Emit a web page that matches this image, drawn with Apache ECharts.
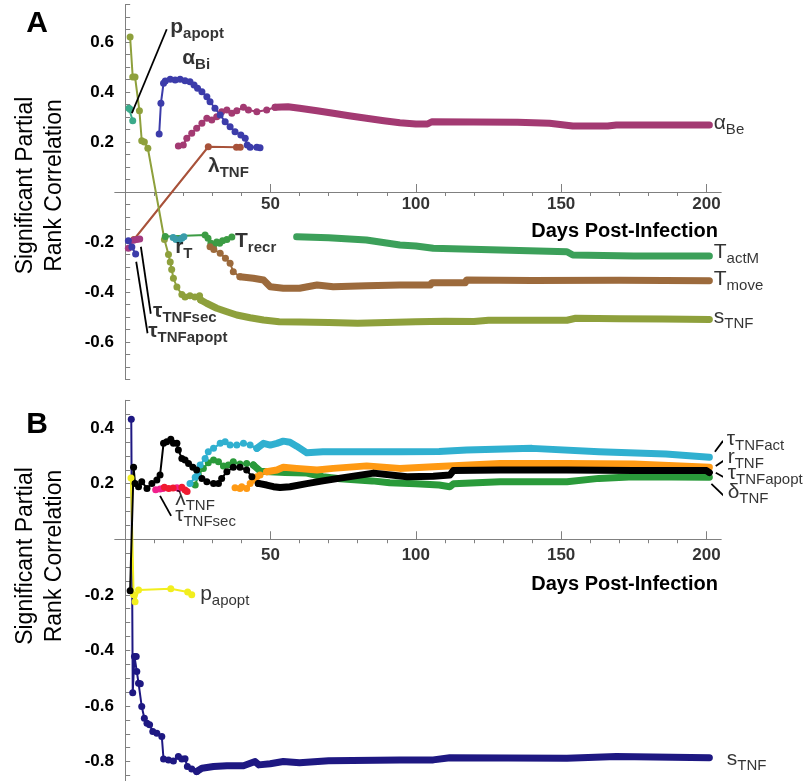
<!DOCTYPE html>
<html>
<head>
    <meta charset="UTF-8">
    <title>Partial rank correlation</title>
    <script src="https://cdn.jsdelivr.net/npm/echarts@6/dist/echarts.min.js"></script>
    <style>
        body { margin: 0; background: #fff; }
        #chart { width: 812px; height: 781px; }
    </style>
</head>
<body>
    <div id="chart"></div>
    <script>
        const FONT = '"Liberation Sans", Arial, sans-serif';

        // tick labels
        const xMajor = [50, 100, 150, 200];
        const xMinor = [10, 20, 30, 40, 60, 70, 80, 90, 110, 120, 130, 140, 160, 170, 180, 190];
        const yLabelsA = [-0.6, -0.4, -0.2, 0.2, 0.4, 0.6];
        const yLabelsB = [-0.8, -0.6, -0.4, -0.2, 0.2, 0.4];

        // ---- panel A: [day, correlation] ----
        const A_sTNF = [[1.7, 0.62], [2.6, 0.46], [3.4, 0.46], [4.9, 0.325], [5.7, 0.205], [6.6, 0.2], [7.8, 0.175],
            [13.5, -0.19], [14.9, -0.25], [15.5, -0.28], [16, -0.31], [16.6, -0.345], [17.8, -0.38], [19.5, -0.41],
            [20.6, -0.42], [22.3, -0.415], [24, -0.42], [25.6, -0.415], [26, -0.432]];
        const A_sTNF_tail = [[26, -0.432], [28, -0.445], [31.5, -0.465], [35, -0.479], [38.4, -0.492], [43, -0.503],
            [47.6, -0.512], [53, -0.519], [60, -0.52], [70, -0.522], [80, -0.525], [90, -0.522], [100, -0.519],
            [110, -0.517], [120, -0.518], [125, -0.513], [152, -0.513], [155, -0.505], [170, -0.507], [185, -0.508], [201, -0.51]];
        const A_alphaBi = [[11.7, 0.232], [12.3, 0.355], [13.2, 0.435], [13.8, 0.444], [15.5, 0.451], [17.2, 0.448],
            [18.9, 0.451], [20.6, 0.445], [22.3, 0.441], [23.7, 0.428], [24.9, 0.415], [26.4, 0.401], [28.1, 0.381],
            [29.2, 0.361], [30.9, 0.335], [32.7, 0.308], [34.4, 0.281], [36.1, 0.261], [37.8, 0.241], [39.8, 0.228],
            [41.3, 0.215], [42, 0.188], [43, 0.179], [45.3, 0.179], [46.4, 0.177]];
        const A_alphaBe = [[18.3, 0.184], [20, 0.188], [21.2, 0.215], [22.9, 0.235], [24.6, 0.255], [26.4, 0.275],
            [28.1, 0.295], [29.8, 0.288], [31.5, 0.301], [33.2, 0.321], [35, 0.328], [36.7, 0.315], [38.4, 0.325],
            [40.7, 0.339], [42.4, 0.328], [45.3, 0.321], [48.7, 0.328], [51.6, 0.339]];
        const A_alphaBe_tail = [[51.6, 0.339], [56, 0.341], [60, 0.335], [66, 0.325], [71.6, 0.315], [77, 0.305],
            [83, 0.295], [89, 0.285], [94.5, 0.277], [100, 0.272], [104, 0.272], [105.5, 0.281], [120, 0.28],
            [135, 0.279], [146, 0.275], [154, 0.264], [166, 0.264], [169, 0.268], [185, 0.268], [201, 0.268]];
        const A_lambdaTNF = [[3, -0.19], [28.6, 0.181], [38.3, 0.179], [39.6, 0.179]];
        const A_pApopt = [[1.3, 0.335], [1.8, 0.33], [2.6, 0.285]];
        const A_tauSec = [[1.1, -0.225], [2.9, -0.193], [4, -0.19], [5, -0.188]];
        const A_tauApopt = [[1.1, -0.195], [2.3, -0.22], [3.6, -0.248]];
        const A_rT = [[16.5, -0.182], [17.5, -0.19], [18.7, -0.192], [19.5, -0.185], [20.2, -0.179]];
        const A_Trecr = [[13.8, -0.178], [27.5, -0.172], [28.5, -0.185], [29.5, -0.205], [30.4, -0.215], [31.5, -0.2],
            [32.5, -0.205], [33.5, -0.195], [35, -0.19], [36.7, -0.18]];
        const A_Tmove = [[29.2, -0.219], [30.5, -0.23], [32.7, -0.245], [34.5, -0.265], [36.1, -0.285], [37.2, -0.319], [39.5, -0.339]];
        const A_Tmove_tail = [[39.5, -0.339], [44.1, -0.345], [47.6, -0.352], [49.9, -0.379], [54.4, -0.385], [60, -0.385],
            [66, -0.372], [71.6, -0.379], [83, -0.375], [94.5, -0.372], [105, -0.372], [105.5, -0.363], [117, -0.363],
            [117.5, -0.352], [140, -0.354], [170, -0.353], [201, -0.355]];
        const A_TactM_tail = [[59, -0.179], [70, -0.183], [83, -0.192], [94.5, -0.212], [100, -0.216], [106, -0.225],
            [129, -0.232], [152, -0.239], [154, -0.252], [175, -0.256], [201, -0.256]];

        // ---- panel B ----
        const B_sTNF = [[2.1, 0.432], [2.6, -0.552], [3.2, -0.422], [3.8, -0.422], [4, -0.476], [4.6, -0.518], [5.2, -0.52],
            [5.7, -0.602], [6.6, -0.644], [7.5, -0.662], [8.4, -0.668], [9.5, -0.692], [10.9, -0.698], [12.6, -0.71],
            [13.2, -0.791], [14.9, -0.794], [16.6, -0.798], [18.3, -0.782], [19.5, -0.791], [20.6, -0.79], [21.4, -0.818],
            [22.9, -0.827], [24.6, -0.836]];
        const B_sTNF_tail = [[24.6, -0.836], [26.4, -0.824], [30.4, -0.818], [35, -0.815], [40.7, -0.815], [44.7, -0.8],
            [46, -0.812], [49.9, -0.808], [54.4, -0.8], [60, -0.804], [70, -0.797], [94.5, -0.794], [106, -0.794],
            [111.7, -0.786], [152, -0.788], [169, -0.782], [201, -0.786]];
        const B_pApopt = [[2, 0.22], [2.9, -0.2], [3.4, -0.225], [4.6, -0.183], [15.7, -0.178], [21.5, -0.19], [22.9, -0.2]];
        const B_tauApopt = [[1.7, -0.185], [2.9, 0.259], [3.4, 0.201], [4.6, 0.189], [5.7, 0.207], [7.5, 0.183], [9.2, 0.201],
            [10.9, 0.213], [12, 0.231], [13.2, 0.345], [14.3, 0.351], [15.7, 0.36], [16.6, 0.345], [17.8, 0.345],
            [18.3, 0.321], [19.5, 0.291], [20.6, 0.285], [21.8, 0.273], [23.3, 0.259], [24.6, 0.249], [26.4, 0.219],
            [28.1, 0.207], [30.4, 0.201], [32.1, 0.201], [33.2, 0.219], [35, 0.243], [37.2, 0.259], [39.5, 0.259],
            [41.8, 0.249], [43.6, 0.225], [45.8, 0.201]];
        const B_tauApopt_tail = [[45.8, 0.201], [48.7, 0.195], [51, 0.189], [53.3, 0.186], [56.7, 0.189], [62.5, 0.2],
            [68, 0.21], [74, 0.22], [85.5, 0.238], [97, 0.225], [106, 0.227], [111.7, 0.231], [112.9, 0.247],
            [129, 0.249], [152, 0.249], [175, 0.247], [200, 0.247], [201, 0.24]];
        const B_tauAct = [[22.3, 0.201], [24.1, 0.223], [24.9, 0.231], [25.8, 0.267], [27.5, 0.291], [28.6, 0.315],
            [30.4, 0.327], [32.7, 0.345], [34.4, 0.351], [36.1, 0.339], [38.4, 0.339], [40.7, 0.345], [43, 0.339], [45.3, 0.327]];
        const B_tauAct_tail = [[45.3, 0.327], [47.6, 0.345], [49.9, 0.339], [52.2, 0.345], [54.4, 0.353], [56.7, 0.349],
            [59, 0.335], [62.5, 0.311], [68, 0.315], [94.5, 0.315], [108, 0.316], [117.5, 0.321], [140, 0.327],
            [163, 0.315], [186, 0.307], [201, 0.295]];
        const B_deltaTNF = [[24.1, 0.195], [25.2, 0.231], [26.9, 0.255], [28.6, 0.275], [30.4, 0.285], [32.1, 0.279],
            [33.8, 0.264], [35.5, 0.267], [37.2, 0.279], [39.5, 0.271], [41.8, 0.273], [44.1, 0.267]];
        const B_deltaTNF_tail = [[44.1, 0.267], [46.5, 0.245], [55, 0.24], [62.5, 0.238], [68, 0.225], [74, 0.218],
            [85, 0.21], [91, 0.203], [100, 0.2], [108, 0.195], [111.7, 0.189], [113, 0.2], [129, 0.207], [152, 0.207],
            [163, 0.219], [175, 0.225], [201, 0.223]];
        const B_rTNF = [[37.8, 0.185], [39.5, 0.183], [40.1, 0.189], [41.8, 0.183], [43, 0.201], [44.1, 0.213],
            [45.3, 0.225], [46.4, 0.231], [48.7, 0.243]];
        const B_rTNF_tail = [[48.7, 0.243], [52.2, 0.249], [54.4, 0.259], [59, 0.255], [66, 0.249], [71.6, 0.255],
            [83.1, 0.264], [94.5, 0.255], [106, 0.261], [129, 0.273], [152, 0.273], [175, 0.271], [201, 0.259]];
        const B_lambdaTNF = [[13.5, 0.187], [15, 0.183], [16.5, 0.184], [19.5, 0.187], [20.6, 0.177], [21.3, 0.172]];
        const B_tauSec = [[10.5, 0.178], [12, 0.181], [13, 0.183], [17.8, 0.185], [18.5, 0.183]];

        // curve labels: [main, subscript, day, value, bold]
        const labelsA = [
            ['p', 'apopt', 15.5, 0.66, true], ['α', 'Bi', 19.6, 0.536, true], ['λ', 'TNF', 28.5, 0.104, true],
            ['α', 'Be', 202.5, 0.276, false], ['r', 'T', 17.2, -0.22, true], ['T', 'recr', 37.8, -0.196, true],
            ['T', 'actM', 202.5, -0.24, false], ['T', 'move', 202.5, -0.348, false], ['s', 'TNF', 202.5, -0.5, false],
            ['τ', 'TNFsec', 9.6, -0.476, true], ['τ', 'TNFapopt', 7.9, -0.556, true]
        ];
        const labelsB = [
            ['τ', 'TNFact', 207, 0.361, false], ['r', 'TNF', 207.3, 0.296, false], ['τ', 'TNFapopt', 207.3, 0.239, false],
            ['δ', 'TNF', 207.3, 0.171, false], ['s', 'TNF', 207, -0.79, false], ['λ', 'TNF', 17.2, 0.145, false],
            ['τ', 'TNFsec', 17.2, 0.087, false], ['p', 'apopt', 25.8, -0.197, false]
        ];
        const leadersA = [[[2.3, 0.315], [14.3, 0.651]], [[5.4, -0.219], [8.8, -0.487]], [[3.8, -0.279], [7.7, -0.565]]];
        const leadersB = [[[202.9, 0.315], [205.7, 0.354]], [[203.2, 0.264], [206.3, 0.285]], [[203.2, 0.239], [206.3, 0.221]],
            [[201.7, 0.199], [206, 0.156]], [[12, 0.156], [15.8, 0.084]]];

        function ticks(lo, hi) {
            const out = [];
            for (let k = Math.round(lo * 20); k <= Math.round(hi * 20); k++) if (k !== 0) out.push(k / 20);
            return out;
        }

        const series = [];
        function dotted(g, color, data) {
            series.push({
                type: 'line', xAxisIndex: g * 2, yAxisIndex: g, data: data, symbol: 'circle', symbolSize: 7,
                showAllSymbol: true, itemStyle: { color: color }, lineStyle: { color: color, width: 2 }, z: 3
            });
        }
        function band(g, color, data) {
            series.push({
                type: 'line', xAxisIndex: g * 2, yAxisIndex: g, data: data, symbol: 'none',
                lineStyle: { color: color, width: 7, cap: 'round', join: 'round' }, z: 2
            });
        }

        // panel A
        dotted(0, '#a8523a', A_lambdaTNF);
        band(0, '#8ea03c', A_sTNF_tail);
        dotted(0, '#8ea03c', A_sTNF);
        band(0, '#a33a72', A_alphaBe_tail);
        dotted(0, '#a33a72', A_alphaBe);
        dotted(0, '#3c3caa', A_alphaBi);
        dotted(0, '#3aaa8a', A_pApopt);
        dotted(0, '#a33a80', A_tauSec);
        dotted(0, '#3c3caa', A_tauApopt);
        dotted(0, '#3c9c44', A_Trecr);
        dotted(0, '#3a9caa', A_rT);
        band(0, '#9c6a3c', A_Tmove_tail);
        dotted(0, '#9c6a3c', A_Tmove);
        band(0, '#3ca05a', A_TactM_tail);

        // panel B
        band(1, '#1e1882', B_sTNF_tail);
        dotted(1, '#1e1882', B_sTNF);
        dotted(1, '#f2ee1e', B_pApopt);
        band(1, '#2a9a3a', B_deltaTNF_tail);
        dotted(1, '#2a9a3a', B_deltaTNF);
        band(1, '#ff9a14', B_rTNF_tail);
        dotted(1, '#ff9a14', B_rTNF);
        band(1, '#30b0d0', B_tauAct_tail);
        dotted(1, '#30b0d0', B_tauAct);
        band(1, '#000000', B_tauApopt_tail);
        dotted(1, '#000000', B_tauApopt);
        dotted(1, '#f0208c', B_tauSec);
        dotted(1, '#f01a30', B_lambdaTNF);

        const rich = {
            m: { fontFamily: FONT, fontSize: 21, color: '#000' },
            s: { fontFamily: FONT, fontSize: 15, color: '#000', padding: [14, 0, 0, 0] },
            mb: { fontFamily: FONT, fontSize: 21, color: '#000', fontWeight: 'bold' },
            sb: { fontFamily: FONT, fontSize: 15, color: '#000', fontWeight: 'bold', padding: [14, 0, 0, 0] }
        };
        function labelSeries(g, list) {
            series.push({
                type: 'scatter', xAxisIndex: g * 2, yAxisIndex: g, symbolSize: 0, clip: false, silent: true, z: 5,
                data: list.map(l => ({
                    value: [l[2], l[3]],
                    label: {
                        show: true, position: 'right', distance: 0, rich: rich,
                        formatter: l[4] ? '{mb|' + l[0] + '}{sb|' + l[1] + '}' : '{m|' + l[0] + '}{s|' + l[1] + '}'
                    }
                }))
            });
        }
        function leaderSeries(g, list) {
            list.forEach(seg => series.push({
                type: 'line', xAxisIndex: g * 2, yAxisIndex: g, data: seg, symbol: 'none', clip: false, silent: true,
                lineStyle: { color: '#000', width: 1.8 }, z: 5
            }));
        }
        // day labels sit on the zero line of each panel
        function dayLabels(g, dist) {
            series.push({
                type: 'scatter', xAxisIndex: g * 2, yAxisIndex: g, symbolSize: 0, silent: true, z: 5,
                data: xMajor.map(v => [v, 0]),
                label: {
                    show: true, position: 'bottom', distance: dist, formatter: p => String(p.value[0]),
                    fontFamily: FONT, fontSize: 17, fontWeight: 'bold', color: '#000', lineHeight: 17
                }
            });
        }
        labelSeries(0, labelsA);
        labelSeries(1, labelsB);
        leaderSeries(0, leadersA);
        leaderSeries(1, leadersB);
        dayLabels(0, 4);
        dayLabels(1, 8);

        const axisGrey = { color: '#808080', width: 1 };
        function xAxes(g) {
            return [{
                gridIndex: g, type: 'value', min: -3.5, max: 205,
                axisLine: { onZero: true, onZeroAxisIndex: g, lineStyle: axisGrey },
                axisTick: { inside: true, length: 8, customValues: xMajor, lineStyle: axisGrey },
                axisLabel: { show: false },
                splitLine: { show: false }
            }, {
                gridIndex: g, type: 'value', min: -3.5, max: 205,
                axisLine: { onZero: true, onZeroAxisIndex: g, lineStyle: axisGrey },
                axisTick: { inside: true, length: 4, customValues: xMinor, lineStyle: axisGrey },
                axisLabel: { show: false },
                splitLine: { show: false }
            }];
        }
        function yAxis(g, min, max, labels) {
            return {
                gridIndex: g, type: 'value', min: min, max: max,
                axisLine: { onZero: true, lineStyle: axisGrey },
                axisTick: { inside: true, length: 5, customValues: ticks(min, max), lineStyle: axisGrey },
                axisLabel: {
                    customValues: labels, formatter: v => v.toFixed(1),
                    fontFamily: FONT, fontSize: 17, fontWeight: 'bold', color: '#000', margin: 1
                },
                splitLine: { show: false }
            };
        }

        function title(x, y, text, size, weight, rot) {
            return {
                type: 'text', x: x, y: y, rotation: rot || 0,
                style: {
                    text: text, fontFamily: FONT, fontSize: size, fontWeight: weight, fill: '#000',
                    align: rot ? 'center' : 'right', verticalAlign: 'middle', lineHeight: 29
                }
            };
        }

        const chart = echarts.init(document.getElementById('chart'));
        chart.setOption({
            animation: false,
            grid: [
                { left: 115, top: 4.5, width: 606, height: 375 },
                { left: 115, top: 400.3, width: 606, height: 381 }
            ],
            xAxis: xAxes(0).concat(xAxes(1)),
            yAxis: [yAxis(0, -0.75, 0.75, yLabelsA), yAxis(1, -0.87, 0.5, yLabelsB)],
            series: series,
            graphic: [
                title(48, 24, 'A', 30, 'bold'),
                title(48, 425, 'B', 30, 'bold'),
                title(718, 231, 'Days Post-Infection', 20, 'bold'),
                title(718, 584, 'Days Post-Infection', 20, 'bold'),
                title(40.5, 185.5, 'Significant Partial\nRank Correlation', 23, 'normal', Math.PI / 2),
                title(40.5, 556, 'Significant Partial\nRank Correlation', 23, 'normal', Math.PI / 2)
            ]
        });
    </script>
</body>
</html>
